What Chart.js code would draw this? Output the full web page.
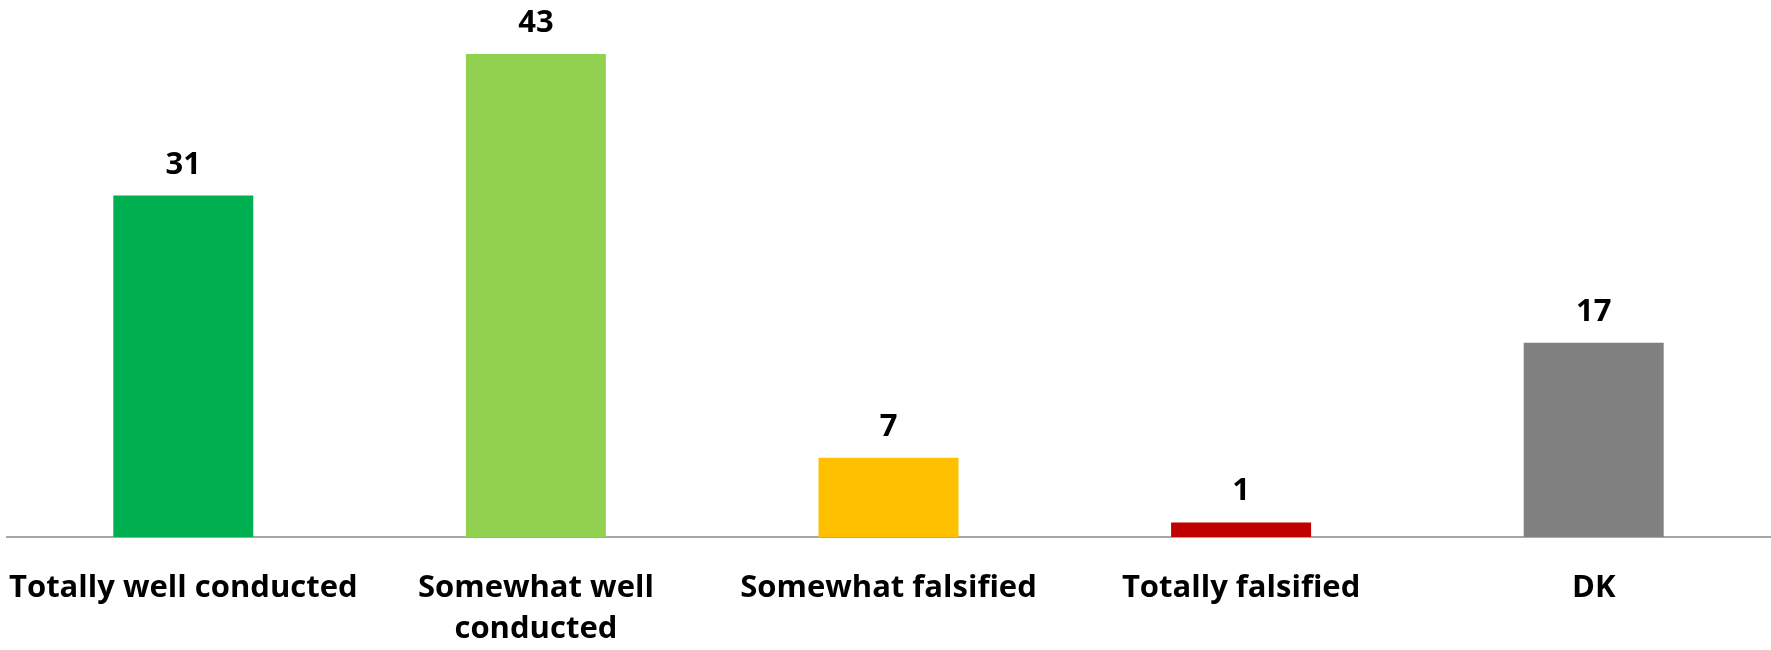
<!DOCTYPE html>
<html>
<head>
<meta charset="utf-8">
<script src="https://cdn.jsdelivr.net/npm/chart.js@4/dist/chart.umd.min.js"></script>
<style>
  html, body { margin: 0; padding: 0; background: #fff; }
  #wrap { width: 1771px; height: 650px; }
</style>
</head>
<body>
<div id="wrap"><canvas id="chart" width="1771" height="650"></canvas></div>
<script>
const categories = [
  'Totally well conducted',
  ['Somewhat well', 'conducted'],
  'Somewhat falsified',
  'Totally falsified',
  'DK',
]
// bar heights; the printed labels are these rounded
const values = [30.6, 43.3, 7.1, 1.3, 17.4]
const barColors = ['#00B050', '#92D050', '#FFC000', '#C00000', '#808080']

const labelFont = '"Open Sans", "DejaVu Sans", sans-serif'

// draws the value above each bar
const valueLabels = {
  id: 'valueLabels',
  afterDatasetsDraw(chart) {
    const ctx = chart.ctx
    const meta = chart.getDatasetMeta(0)
    ctx.save()
    ctx.font = 'bold 31px ' + labelFont
    ctx.fillStyle = '#000'
    ctx.textAlign = 'center'
    ctx.textBaseline = 'alphabetic'
    meta.data.forEach((bar, i) => {
      ctx.fillText(String(Math.round(values[i])), bar.x, bar.y - 22)
    })
    ctx.restore()
  },
}

new Chart(document.getElementById('chart').getContext('2d'), {
  type: 'bar',
  data: {
    labels: categories,
    datasets: [
      {
        data: values,
        backgroundColor: barColors,
        borderWidth: 0,
        categoryPercentage: 1,
        barPercentage: 0.397,
      },
    ],
  },
  options: {
    responsive: false,
    animation: false,
    layout: {
      padding: { top: 35, left: 7, right: 1, bottom: -30 },
    },
    plugins: {
      legend: { display: false },
      tooltip: { enabled: false },
    },
    scales: {
      y: {
        display: false,
        min: 0,
        max: 45,
      },
      x: {
        afterFit(scale) {
          // long first label should not push the plot inwards
          scale.paddingLeft = 0
          scale.paddingRight = 0
        },
        grid: { display: false, drawTicks: false },
        border: { display: true, color: '#A6A6A6', width: 2 },
        ticks: {
          color: '#000',
          padding: 30,
          maxRotation: 0,
          autoSkip: false,
          font: { family: labelFont, weight: 'bold', size: 31, lineHeight: 1.34 },
        },
      },
    },
  },
  plugins: [valueLabels],
})
</script>
</body>
</html>
